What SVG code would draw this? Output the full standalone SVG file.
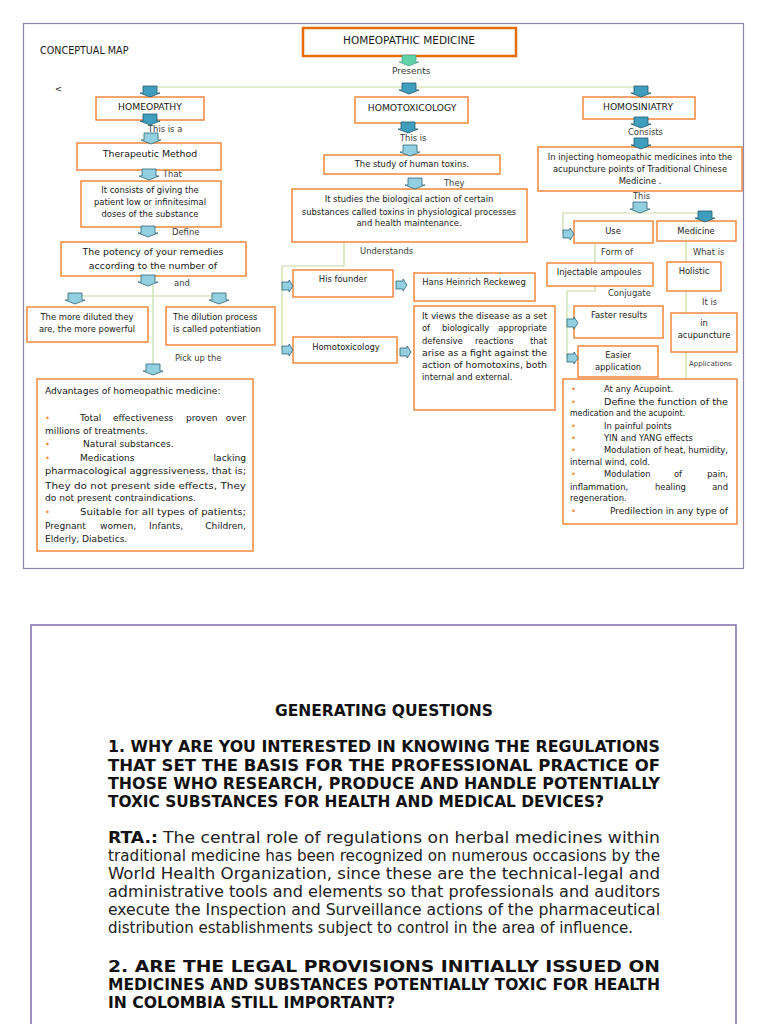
<svg xmlns="http://www.w3.org/2000/svg" width="768" height="1024" viewBox="0 0 768 1024">
<style>
.bx{fill:#fff;stroke:#f0883e;stroke-width:1.5}
.t{font-family:"DejaVu Sans",sans-serif;font-size:8.4px;fill:#1a1a1a;text-anchor:middle}
.s{text-anchor:start}
.e{text-anchor:end}
.c{font-size:9.2px}
.b9{font-size:9.4px}
.av{font-size:9.1px}
.l{font-family:"DejaVu Sans",sans-serif;font-size:8.4px;fill:#3a3a3a}
.bu{fill:#f08a3a}
.dk{fill:#3f9dbd;stroke:#24596b;stroke-width:.8}
.lt{fill:#92cfe0;stroke:#2f6476;stroke-width:.8}
.gr{fill:#5fd3a5;stroke:#3d8f87;stroke-width:.6}
.cn{fill:none;stroke:#c5dba0;stroke-width:1.2}
.q{font-family:"DejaVu Sans Condensed","DejaVu Sans",sans-serif;font-size:15.5px;fill:#111;font-weight:bold}
.a{font-family:"DejaVu Sans Condensed","DejaVu Sans",sans-serif;font-size:15.5px;fill:#222}
</style>
<defs>
<path id="ad" d="M-7,0 H7 V7 H10 L0,11 L-10,7 H-7 Z"/>
<path id="ar" d="M0,-4 H7 V-6 L11,0 L7,6 V4 H0 Z"/>
</defs>
<rect x="23.5" y="23.5" width="720" height="545" fill="#fff" stroke="#8e82b0" stroke-width="1.2"/>
<rect x="31" y="625" width="705" height="420" fill="#fff" stroke="#7d6ea8" stroke-width="1.5"/>

<text class="t s c" x="40" y="54" style="font-size:9.6px">CONCEPTUAL MAP</text>
<text class="t s" x="55" y="92">&lt;</text>

<g id="connectors">
<path class="cn" d="M150,87 H641"/>
<path class="cn" d="M75,296 H219 M153,285 V364"/>
<path class="cn" d="M344,242 V266 H282 V350"/>
<path class="cn" d="M563,213 H705 M563,213 V234"/>
<path class="cn" d="M595,243 V263 M686,241 V262"/>
<path class="cn" d="M595,286 V291 H567 V358"/>
<path class="cn" d="M686,291 V313 M686,352 V379"/>
<text class="l" x="392" y="74" style="font-size:9px">Presents</text>
<text class="l" x="148" y="132">This is a</text>
<text class="l" x="163" y="177">That</text>
<text class="l" x="172" y="235">Define</text>
<text class="l" x="174" y="286">and</text>
<text class="l" x="175" y="361">Pick up the</text>
<text class="l" x="400" y="141">This is</text>
<text class="l" x="444" y="186">They</text>
<text class="l" x="360" y="254">Understands</text>
<text class="l" x="628" y="135">Consists</text>
<text class="l" x="633" y="199">This</text>
<text class="l" x="601" y="255">Form of</text>
<text class="l" x="693" y="255">What is</text>
<text class="l" x="608" y="296">Conjugate</text>
<text class="l" x="702" y="305">It is</text>
<text class="l" x="689" y="366" style="font-size:7px">Applications</text>
</g>

<g id="n-homeopathic-medicine"><rect x="303" y="28" width="213" height="28" fill="#fff" stroke="#e46c0a" stroke-width="2.5"/><text class="t" x="409" y="44" style="font-size:10.5px">HOMEOPATHIC MEDICINE</text></g>
<g id="n-homeopathy"><rect class="bx" x="96" y="97" width="108" height="23"/><text class="t c" x="150" y="110">HOMEOPATHY</text></g>
<g id="n-homotoxicology"><rect class="bx" x="355" y="97" width="113" height="26"/><text class="t c" x="412" y="111">HOMOTOXICOLOGY</text></g>
<g id="n-homosiniatry"><rect class="bx" x="583" y="97" width="112" height="22"/><text class="t c" x="638" y="110">HOMOSINIATRY</text></g>
<g id="n-therapeutic"><rect class="bx" x="77" y="143" width="144" height="27"/><text class="t b9" x="150" y="157">Therapeutic Method</text></g>
<g id="n-consists"><rect class="bx" x="81" y="181" width="140" height="46"/><text class="t" x="150" y="193">It consists of giving the</text><text class="t" x="150" y="205">patient low or infinitesimal</text><text class="t" x="150" y="217">doses of the substance</text></g>
<g id="n-potency"><rect class="bx" x="61" y="242" width="185" height="34"/><text class="t b9" x="153" y="255">The potency of your remedies</text><text class="t b9" x="153" y="269">according to the number of</text></g>
<g id="n-diluted"><rect class="bx" x="27" y="307" width="121" height="35"/><text class="t" x="87" y="320">The more diluted they</text><text class="t" x="87" y="332">are, the more powerful</text></g>
<g id="n-dilution"><rect class="bx" x="166" y="307" width="109" height="38"/><text class="t s" x="173" y="320">The dilution process</text><text class="t s" x="173" y="332">is called potentiation</text></g>
<g id="n-advantages"><rect class="bx" x="37" y="379" width="216" height="172"/>
<text class="t s av" x="45" y="394">Advantages of homeopathic medicine:</text>
<text class="t s bu" x="45" y="421">•</text><text class="t s av" y="421"><tspan x="80">Total</tspan><tspan x="113">effectiveness</tspan><tspan x="186">proven</tspan></text><text class="t e av" x="246" y="421">over</text>
<text class="t s av" x="45" y="434">millions of treatments.</text>
<text class="t s bu" x="45" y="447">•</text><text class="t s av" x="83" y="447">Natural substances.</text>
<text class="t s bu" x="45" y="461">•</text><text class="t s av" x="80" y="461">Medications</text><text class="t e av" x="246" y="461">lacking</text>
<text class="t s av" x="45" y="474" textLength="201" lengthAdjust="spacingAndGlyphs">pharmacological aggressiveness, that is;</text>
<text class="t s av" x="45" y="489" textLength="201" lengthAdjust="spacingAndGlyphs">They do not present side effects, They</text>
<text class="t s av" x="45" y="501">do not present contraindications.</text>
<text class="t s bu" x="45" y="515">•</text><text class="t s av" x="80" y="515" textLength="166" lengthAdjust="spacingAndGlyphs">Suitable for all types of patients;</text>
<text class="t s av" y="529"><tspan x="45">Pregnant</tspan><tspan x="100">women,</tspan><tspan x="149">Infants,</tspan></text><text class="t e av" x="246" y="529">Children,</text>
<text class="t s av" x="45" y="542">Elderly, Diabetics.</text>
</g>
<g id="n-study"><rect class="bx" x="324" y="155" width="176" height="19"/><text class="t" x="412" y="167">The study of human toxins.</text></g>
<g id="n-studies"><rect class="bx" x="292" y="189" width="235" height="53"/><text class="t" x="409" y="202">It studies the biological action of certain</text><text class="t" x="409" y="215">substances called toxins in physiological processes</text><text class="t" x="409" y="226">and health maintenance.</text></g>
<g id="n-founder"><rect class="bx" x="293" y="270" width="100" height="27"/><text class="t" x="343" y="282">His founder</text></g>
<g id="n-hans"><rect class="bx" x="414" y="273" width="121" height="28"/><text class="t" x="474" y="285">Hans Heinrich Reckeweg</text></g>
<g id="n-homotox2"><rect class="bx" x="293" y="337" width="104" height="26"/><text class="t" x="346" y="350">Homotoxicology</text></g>
<g id="n-views"><rect class="bx" x="414" y="306" width="141" height="104"/>
<text class="t s" x="422" y="319" textLength="125" lengthAdjust="spacingAndGlyphs">It views the disease as a set</text>
<text class="t s" y="331"><tspan x="422">of</tspan><tspan x="442">biologically</tspan></text><text class="t e" x="547" y="331">appropriate</text>
<text class="t s" y="344"><tspan x="422">defensive</tspan><tspan x="475">reactions</tspan></text><text class="t e" x="547" y="344">that</text>
<text class="t s" x="422" y="356" textLength="125" lengthAdjust="spacingAndGlyphs">arise as a fight against the</text>
<text class="t s" x="422" y="368" textLength="125" lengthAdjust="spacingAndGlyphs">action of homotoxins, both</text>
<text class="t s" x="422" y="380">internal and external.</text>
</g>
<g id="n-injecting"><rect class="bx" x="538" y="147" width="204" height="44"/><text class="t" x="640" y="160">In injecting homeopathic medicines into the</text><text class="t" x="640" y="172">acupuncture points of Traditional Chinese</text><text class="t" x="640" y="184">Medicine .</text></g>
<g id="n-use"><rect class="bx" x="574" y="221" width="79" height="22"/><text class="t" x="613" y="234">Use</text></g>
<g id="n-medicine"><rect class="bx" x="657" y="221" width="79" height="20"/><text class="t" x="696" y="234">Medicine</text></g>
<g id="n-ampoules"><rect class="bx" x="547" y="263" width="106" height="23"/><text class="t" x="599" y="275">Injectable ampoules</text></g>
<g id="n-holistic"><rect class="bx" x="667" y="262" width="54" height="29"/><text class="t" x="694" y="274">Holistic</text></g>
<g id="n-faster"><rect class="bx" x="574" y="306" width="89" height="32"/><text class="t" x="619" y="318">Faster results</text></g>
<g id="n-easier"><rect class="bx" x="578" y="346" width="80" height="31"/><text class="t" x="618" y="358">Easier</text><text class="t" x="618" y="370">application</text></g>
<g id="n-acupuncture"><rect class="bx" x="671" y="313" width="66" height="39"/><text class="t" x="704" y="326">in</text><text class="t" x="704" y="338">acupuncture</text></g>
<g id="n-applications"><rect class="bx" x="563" y="379" width="174" height="145"/>
<text class="t s bu" x="571" y="392">•</text><text class="t s" x="604" y="392">At any Acupoint.</text>
<text class="t s bu" x="571" y="405">•</text><text class="t s" x="604" y="405" textLength="124" lengthAdjust="spacingAndGlyphs">Define the function of the</text>
<text class="t s" x="570" y="416" textLength="115" lengthAdjust="spacingAndGlyphs">medication and the acupoint.</text>
<text class="t s bu" x="571" y="429">•</text><text class="t s" x="604" y="429">In painful points</text>
<text class="t s bu" x="571" y="441">•</text><text class="t s" x="604" y="441">YIN and YANG effects</text>
<text class="t s bu" x="571" y="453">•</text><text class="t s" x="604" y="453" textLength="124" lengthAdjust="spacingAndGlyphs">Modulation of heat, humidity,</text>
<text class="t s" x="570" y="465">internal wind, cold.</text>
<text class="t s bu" x="571" y="477">•</text><text class="t s" y="477"><tspan x="604">Modulation</tspan><tspan x="674">of</tspan></text><text class="t e" x="728" y="477">pain,</text>
<text class="t s" y="490"><tspan x="570">inflammation,</tspan><tspan x="655">healing</tspan></text><text class="t e" x="728" y="490">and</text>
<text class="t s" x="570" y="501">regeneration.</text>
<text class="t s bu" x="571" y="514">•</text><text class="t s" x="610" y="514" textLength="118" lengthAdjust="spacingAndGlyphs">Predilection in any type of</text>
</g>

<g id="arrows">
<use href="#ad" class="gr" x="409" y="55"/>
<use href="#ad" class="dk" x="150" y="86"/>
<use href="#ad" class="dk" x="409" y="83"/>
<use href="#ad" class="dk" x="641" y="86"/>
<use href="#ad" class="dk" x="150" y="114"/>
<use href="#ad" class="lt" x="151" y="133"/>
<use href="#ad" class="lt" x="149" y="169"/>
<use href="#ad" class="lt" x="148" y="226"/>
<use href="#ad" class="lt" x="148" y="275"/>
<use href="#ad" class="lt" x="75" y="293"/>
<use href="#ad" class="lt" x="219" y="293"/>
<use href="#ad" class="lt" x="153" y="364"/>
<use href="#ad" class="dk" x="408" y="122"/>
<use href="#ad" class="lt" x="410" y="145"/>
<use href="#ad" class="lt" x="415" y="178"/>
<use href="#ad" class="dk" x="641" y="117"/>
<use href="#ad" class="dk" x="641" y="138"/>
<use href="#ad" class="lt" x="640" y="202"/>
<use href="#ad" class="dk" x="705" y="211"/>
<use href="#ar" class="lt" x="282" y="286"/>
<use href="#ar" class="lt" x="396" y="285"/>
<use href="#ar" class="lt" x="282" y="350"/>
<use href="#ar" class="lt" x="400" y="352"/>
<use href="#ar" class="lt" x="563" y="234"/>
<use href="#ar" class="lt" x="567" y="323"/>
<use href="#ar" class="lt" x="567" y="358"/>
</g>

<g id="questions">
<text class="q" x="275" y="716" textLength="218" lengthAdjust="spacingAndGlyphs">GENERATING QUESTIONS</text>
<text class="q" x="108" y="752" textLength="552" lengthAdjust="spacingAndGlyphs">1. WHY ARE YOU INTERESTED IN KNOWING THE REGULATIONS</text>
<text class="q" x="108" y="771" textLength="552" lengthAdjust="spacingAndGlyphs">THAT SET THE BASIS FOR THE PROFESSIONAL PRACTICE OF</text>
<text class="q" x="108" y="789" textLength="552" lengthAdjust="spacingAndGlyphs">THOSE WHO RESEARCH, PRODUCE AND HANDLE POTENTIALLY</text>
<text class="q" x="108" y="807" textLength="496" lengthAdjust="spacingAndGlyphs">TOXIC SUBSTANCES FOR HEALTH AND MEDICAL DEVICES?</text>
<text class="q" x="108" y="843" textLength="50" lengthAdjust="spacingAndGlyphs">RTA.:</text>
<text class="a" x="163" y="843" textLength="497" lengthAdjust="spacingAndGlyphs">The central role of regulations on herbal medicines within</text>
<text class="a" x="108" y="861" textLength="552" lengthAdjust="spacingAndGlyphs">traditional medicine has been recognized on numerous occasions by the</text>
<text class="a" x="108" y="879" textLength="552" lengthAdjust="spacingAndGlyphs">World Health Organization, since these are the technical-legal and</text>
<text class="a" x="108" y="897" textLength="552" lengthAdjust="spacingAndGlyphs">administrative tools and elements so that professionals and auditors</text>
<text class="a" x="108" y="915" textLength="552" lengthAdjust="spacingAndGlyphs">execute the Inspection and Surveillance actions of the pharmaceutical</text>
<text class="a" x="108" y="933" textLength="525" lengthAdjust="spacingAndGlyphs">distribution establishments subject to control in the area of influence.</text>
<text class="q" x="108" y="972" textLength="552" lengthAdjust="spacingAndGlyphs">2. ARE THE LEGAL PROVISIONS INITIALLY ISSUED ON</text>
<text class="q" x="108" y="990" textLength="552" lengthAdjust="spacingAndGlyphs">MEDICINES AND SUBSTANCES POTENTIALLY TOXIC FOR HEALTH</text>
<text class="q" x="108" y="1008" textLength="287" lengthAdjust="spacingAndGlyphs">IN COLOMBIA STILL IMPORTANT?</text>
</g>
</svg>
